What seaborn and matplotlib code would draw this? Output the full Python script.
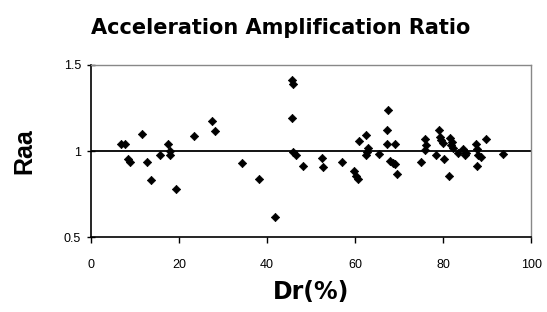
import matplotlib
matplotlib.use("Agg")
import matplotlib.pyplot as plt
import seaborn as sns
import pandas as pd

dr = [6.8, 7.7, 8.4, 8.9, 11.7, 12.7, 13.7, 15.7, 17.5, 17.9, 18.0, 19.3, 23.4,
      27.6, 28.2, 34.3, 38.1, 41.9, 45.6, 45.9, 45.6, 45.9, 46.5, 48.1,
      52.5, 52.8, 57.0, 59.8, 60.3, 60.6, 60.9, 62.6, 62.7, 62.9, 62.5, 65.4,
      67.4, 67.3, 67.3, 69.0, 67.9, 68.7, 69.0, 69.6,
      74.9, 75.9, 76.1, 76.0, 78.5, 79.1, 79.2, 79.6, 80.0, 80.3, 81.4,
      81.5, 81.9, 82.1, 82.3, 83.4, 84.6, 85.0, 85.3,
      87.5, 87.6, 88.0, 88.7, 87.8, 89.7, 93.7]
raa = [1.039, 1.043, 0.956, 0.936, 1.097, 0.936, 0.83, 0.979, 1.039, 1.0, 0.975, 0.78, 1.087,
       1.172, 1.116, 0.932, 0.836, 0.616, 1.41, 1.39, 1.193, 0.994, 0.975, 0.913,
       0.961, 0.907, 0.936, 0.882, 0.855, 0.836, 1.058, 1.091, 0.994, 1.019, 0.979, 0.985,
       1.239, 1.124, 1.042, 1.042, 0.94, 0.93, 0.927, 0.865,
       0.936, 1.068, 1.033, 1.008, 0.979, 1.124, 1.081, 1.062, 1.046, 0.956, 0.855,
       1.075, 1.033, 1.05, 1.02, 0.988, 1.014, 0.975, 0.99,
       1.042, 1.014, 0.979, 0.965, 0.913, 1.071, 0.983]

xticks = [0, 20, 40, 60, 80, 100]
yticks = [0.5, 1, 1.5]
yticklabels = ["0.5", "1", "1.5"]

df = pd.DataFrame({"Dr": dr, "Raa": raa})

sns.set_style("white")
plt.rcParams['font.family'] = ['Liberation Sans', 'DejaVu Sans']
plt.rcParams['text.color'] = 'black'
plt.rcParams['axes.labelcolor'] = 'black'
plt.rcParams['xtick.color'] = 'black'
plt.rcParams['ytick.color'] = 'black'

fig = plt.figure(figsize=(5.47, 3.12), dpi=100)
ax = fig.add_axes([0.166, 0.240, 0.805, 0.552])

sns.scatterplot(data=df, x="Dr", y="Raa", ax=ax, marker="D", s=18,
                color="black", edgecolor="black", linewidth=0.5, zorder=3)
ax.axhline(1.0, color="black", lw=1.3, zorder=2)

ax.set_xlim(0, 100)
ax.set_ylim(0.5, 1.5)
ax.set_xticks(xticks)
ax.set_yticks(yticks)
ax.set_yticklabels(yticklabels)
ax.tick_params(axis="both", labelsize=9, length=4, width=1, colors="black",
               direction="out", bottom=True, left=True)
ax.tick_params(axis="x", pad=12)
ax.tick_params(axis="y", direction="inout", length=6, pad=4)

for side in ["left", "bottom"]:
    ax.spines[side].set_color("black")
    ax.spines[side].set_linewidth(1.2)
for side in ["top", "right"]:
    ax.spines[side].set_visible(True)
    ax.spines[side].set_color("#888888")
    ax.spines[side].set_linewidth(1.0)

ax.set_xlabel("Dr(%)", fontsize=17, fontweight="bold", labelpad=6,
              family=["DejaVu Sans"], color="black")
ax.set_ylabel("Raa", fontsize=18, fontweight="bold", labelpad=20, color="black")
fig.text(0.513, 0.91, "Acceleration Amplification Ratio", ha="center", va="center",
         fontsize=15, fontweight="bold", family=["DejaVu Sans"], color="black")

fig.savefig("out.png", dpi=100)
